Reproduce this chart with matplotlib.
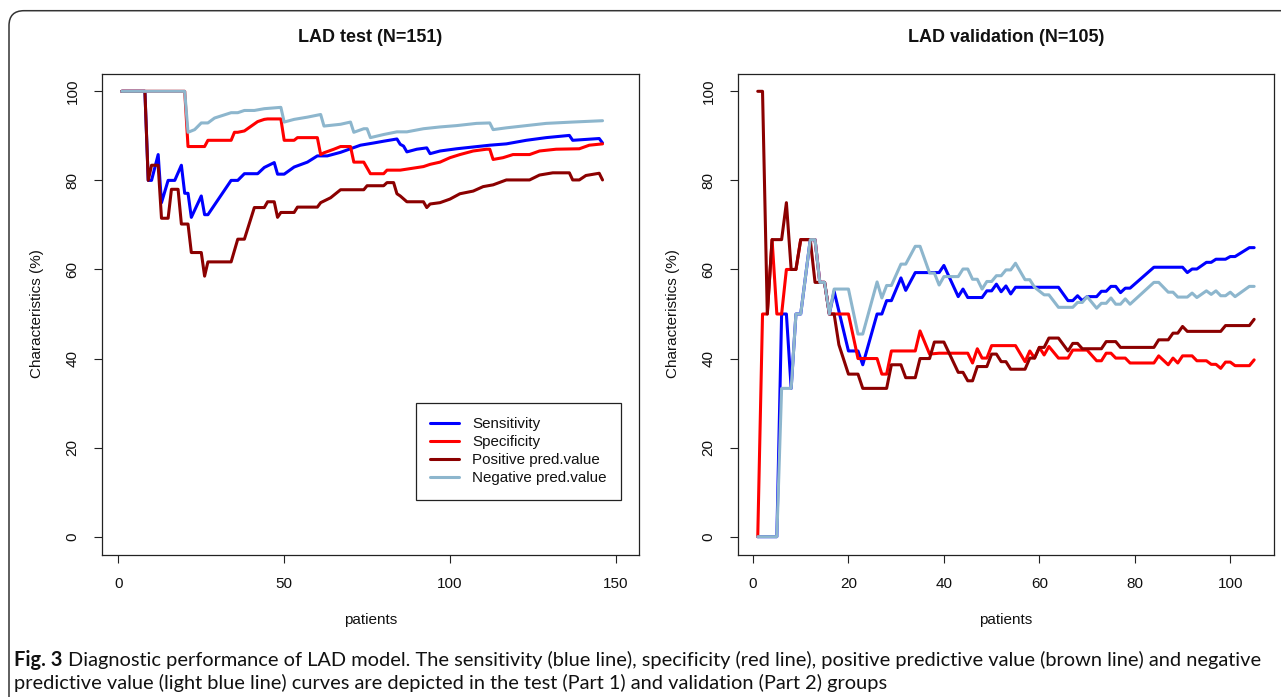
import matplotlib
matplotlib.use("Agg")
import matplotlib.pyplot as plt
from matplotlib.patches import FancyBboxPatch
from matplotlib.transforms import IdentityTransform

plt.rcParams['font.family'] = ['Liberation Sans', 'DejaVu Sans']

# ---------------- data (patient index, percent) ----------------
series_names = ["Sensitivity", "Specificity", "Positive pred.value", "Negative pred.value"]
series_colors = ["#0000FF", "#FF0000", "#8B0000", "#8DB6CD"]

test_sens = [(1,100),(8,100),(9,80),(10,80),(12,85.8),(13,75),(15,80),(17,80),(19,83.4),(20,77.1),
             (21,77.1),(22,71.7),(25,76.5),(26,72.3),(27,72.3),(34,80),(36,80),(38,81.5),(42,81.5),
             (44,82.9),(47,84),(48,81.4),(50,81.4),(53,83),(57,84.1),(60,85.5),(63,85.5),(67,86.3),
             (70,87.1),(73,87.9),(77,88.4),(80,88.8),(84,89.3),(85,88.1),(86,87.7),(87,86.4),(90,87),
             (93,87.3),(94,86),(97,86.6),(102,87.1),(107,87.5),(112,87.9),(117,88.2),(123,89),
             (129,89.6),(136,90.1),(137,89),(141,89.2),(145,89.4),(146,88.4)]
test_spec = [(1,100),(20,100),(21,87.6),(26,87.6),(27,89),(34,89),(35,90.8),(36,90.8),(38,91.1),
             (42,93.2),(44,93.7),(45,93.8),(49,93.8),(50,89),(53,89),(54,89.6),(60,89.6),(61,85.8),
             (62,86.2),(65,87),(67,87.6),(70,87.6),(71,84.1),(74,84.1),(76,81.5),(80,81.5),(81,82.3),
             (85,82.3),(92,83.1),(94,83.6),(97,84.1),(100,85.1),(103,85.8),(107,86.6),(111,87),
             (112,87),(113,84.7),(116,85.1),(119,85.8),(124,85.8),(127,86.6),(132,87),(139,87.1),
             (142,87.9),(146,88.2)]
test_ppv = [(1,100),(8,100),(9,80),(10,83.4),(12,83.4),(13,71.5),(15,71.5),(16,78),(18,78),(19,70.2),
            (21,70.2),(22,63.8),(25,63.8),(26,58.5),(27,61.7),(34,61.7),(36,66.8),(38,66.8),(41,73.9),
            (44,73.9),(45,75.2),(47,75.2),(48,71.7),(49,72.8),(53,72.8),(54,74),(60,74),(61,75),
            (64,76.1),(67,77.9),(74,77.9),(75,78.8),(80,78.8),(81,79.5),(83,79.5),(84,77),(85,76.5),
            (87,75.2),(92,75.2),(93,73.9),(94,74.7),(97,75),(100,75.8),(103,77),(107,77.6),(110,78.6),
            (113,79),(117,80.1),(124,80.1),(127,81.2),(131,81.7),(136,81.7),(137,80.1),(139,80.1),
            (141,81.1),(145,81.6),(146,80.1)]
test_npv = [(1,100),(20,100),(21,90.8),(23,91.4),(25,92.9),(27,92.9),(29,94),(34,95.2),(36,95.2),
            (38,95.7),(41,95.7),(44,96.1),(49,96.4),(50,93.1),(53,93.7),(57,94.2),(61,94.8),(62,92.2),
            (67,92.6),(70,93.1),(71,90.8),(74,91.6),(75,91.6),(76,89.6),(80,90.3),(84,90.9),(87,90.9),
            (92,91.6),(97,92),(102,92.3),(108,92.8),(112,92.9),(113,91.4),(117,91.8),(123,92.3),
            (129,92.8),(137,93.1),(146,93.4)]

val_sens = [(1,0),(5,0),(6,50),(7,50),(8,33.3),(9,50),(10,50),(12,66.7),(13,66.7),(14,57.1),(15,57.1),
            (16,50),(17,55.1),(20,41.7),(22,41.7),(23,38.6),(26,50),(27,50),(28,53),(29,53),(31,58.1),
            (32,55.3),(34,59.3),(39,59.3),(40,60.9),(43,53.9),(44,55.6),(45,53.7),(48,53.7),(49,55.2),
            (50,55.2),(51,56.7),(52,55),(53,56.3),(54,54.5),(55,56),(64,56),(66,53),(67,53),(68,54.1),
            (69,53),(70,53.9),(72,53.9),(73,55.1),(74,55.1),(75,56.2),(76,56.2),(77,54.8),(78,55.8),
            (79,55.8),(84,60.5),(90,60.5),(91,59.3),(92,60.1),(93,60.1),(95,61.6),(96,61.6),(97,62.3),
            (99,62.3),(100,62.9),(101,62.9),(104,64.9),(105,64.9)]
val_spec = [(1,0),(2,50),(3,50),(4,66.7),(5,50),(6,50),(7,60),(9,60),(10,66.7),(13,66.7),(14,57.1),
            (15,57.1),(16,50),(20,50),(22,40),(26,40),(27,36.5),(28,36.5),(29,41.7),(34,41.7),(35,46.2),
            (37,41),(39,41.2),(45,41.2),(46,39),(47,42.2),(48,40.1),(49,40.1),(50,42.9),(55,42.9),
            (57,39.3),(58,41.7),(59,40.1),(60,42.5),(61,40.8),(62,42.7),(64,40.1),(66,40.1),(67,41.9),
            (70,41.9),(72,39.5),(73,39.5),(74,41.2),(75,41.2),(76,40.1),(78,40.1),(79,39),(84,39),
            (85,40.6),(87,38.6),(88,40.1),(89,39),(90,40.6),(92,40.6),(93,39.5),(95,39.5),(96,38.7),
            (97,38.7),(98,37.8),(99,39.2),(100,39.2),(101,38.4),(104,38.4),(105,39.7)]
val_ppv = [(1,100),(2,100),(3,50),(4,66.7),(6,66.7),(7,75),(8,60),(9,60),(10,66.7),(12,66.7),(13,57.1),
           (15,57.1),(16,50),(17,50),(18,43.1),(20,36.5),(22,36.5),(23,33.3),(28,33.3),(29,38.6),
           (31,38.6),(32,35.7),(34,35.7),(35,40),(37,40),(38,43.7),(40,43.7),(43,36.9),(44,36.9),
           (45,35),(46,35),(47,38.2),(49,38.2),(50,41),(51,41),(52,39.3),(53,39.3),(54,37.6),(57,37.6),
           (58,40.1),(59,40.1),(60,42.5),(61,42.5),(62,44.6),(64,44.6),(66,41.7),(67,43.4),(68,43.4),
           (69,42.2),(73,42.2),(74,43.8),(76,43.8),(77,42.5),(84,42.5),(85,44.2),(87,44.2),(88,45.7),
           (89,45.7),(90,47.2),(91,46.1),(98,46.1),(99,47.4),(104,47.4),(105,48.8)]
val_npv = [(1,0),(5,0),(6,33.3),(8,33.3),(9,50),(10,50),(12,66.7),(13,66.7),(14,57.1),(15,57.1),(16,50),
           (17,55.6),(20,55.6),(22,45.5),(23,45.5),(26,57.2),(27,53.6),(28,56.4),(29,56.4),(31,61.2),
           (32,61.2),(34,65.2),(35,65.2),(37,59.2),(38,59.2),(39,56.5),(40,58.4),(43,58.4),(44,60.1),
           (45,60.1),(46,57.8),(47,57.8),(48,55.6),(49,57.3),(50,57.3),(51,58.6),(52,58.6),(53,59.9),
           (54,59.9),(55,61.4),(57,57.7),(58,57.7),(59,56),(61,54.3),(62,54.3),(64,51.5),(67,51.5),
           (68,52.6),(69,52.6),(70,53.9),(72,51.3),(73,52.4),(74,52.4),(75,53.6),(76,52.2),(77,52.2),
           (78,53.4),(79,52.2),(84,57.1),(85,57.1),(87,54.9),(88,54.9),(89,53.8),(91,53.8),(92,54.7),
           (93,53.7),(95,55.2),(96,54.4),(97,55.2),(98,54.1),(99,54.1),(100,54.9),(101,53.9),
           (104,56.2),(105,56.2)]

panel_titles = ["LAD test (N=151)", "LAD validation (N=105)"]
x_ticks_left = [0, 50, 100, 150]
x_ticks_right = [0, 20, 40, 60, 80, 100]
y_ticks = [0, 20, 40, 60, 80, 100]
x_label = "patients"
y_label = "Characteristics (%)"
caption_bold = "Fig. 3"
caption_line1 = ("Diagnostic performance of LAD model. The sensitivity (blue line), specificity (red line), "
                 "positive predictive value (brown line) and negative")
caption_line2 = ("predictive value (light blue line) curves are depicted in the test (Part 1) and "
                 "validation (Part 2) groups")

# ---------------- figure ----------------
W, H = 1281, 697
fig = plt.figure(figsize=(W / 100, H / 100), dpi=100)
fig.patch.set_facecolor("white")

def px_axes(l, t, r, b):
    return [l / W, (H - b) / H, (r - l) / W, (b - t) / H]

axL = fig.add_axes(px_axes(101.8, 73.5, 639, 554.5))
axR = fig.add_axes(px_axes(737.9, 73.5, 1274, 554.5))

frame_col = "#222222"
txt_col = "#111111"
panels = [
    (axL, [test_sens, test_spec, test_ppv, test_npv], (-5, 157), x_ticks_left, panel_titles[0]),
    (axR, [val_sens, val_spec, val_ppv, val_npv], (-3.16, 109.16), x_ticks_right, panel_titles[1]),
]
for ax, data, xlim, xt, title in panels:
    for pts, name, col in zip(data, series_names, series_colors):
        xs = [p[0] for p in pts]
        ys = [p[1] for p in pts]
        ax.plot(xs, ys, color=col, lw=2.2, label=name, solid_capstyle="round", solid_joinstyle="round")
    ax.set_xlim(*xlim)
    ax.set_ylim(-4, 104)
    ax.set_xticks(xt)
    ax.set_yticks(y_ticks)
    for s in ax.spines.values():
        s.set_color(frame_col)
        s.set_linewidth(0.9)
    ax.tick_params(direction="out", length=5.8, width=0.8, color=frame_col,
                   labelsize=11, labelcolor=txt_col)
    ax.tick_params(axis="x", pad=10.2)
    ax.tick_params(axis="y", pad=10.2)
    for lab in ax.get_yticklabels():
        lab.set_rotation(90)
        lab.set_va("center")
    ax.text(0.5, 1.075, title, transform=ax.transAxes, ha="center", va="center",
            fontsize=13, fontweight="bold", color=txt_col)
    ax.text(0.5, -0.136, x_label, transform=ax.transAxes, ha="center", va="center",
            fontsize=11, color=txt_col)
    ax.text(-0.1206, 0.5, y_label, transform=ax.transAxes, ha="center", va="center",
            rotation=90, fontsize=11, color=txt_col)

leg = axL.legend(loc="upper left", bbox_to_anchor=(0.585, 0.315), frameon=True, fancybox=False,
                 edgecolor=frame_col, framealpha=1, fontsize=10.9, handlelength=1.9,
                 handletextpad=0.85, labelspacing=0.26, borderpad=0.95, borderaxespad=0)
leg.get_frame().set_linewidth(0.9)
for t in leg.get_texts():
    t.set_color(txt_col)

# outer rounded border (extends beyond right / bottom edge)
border = FancyBboxPatch((9, -40), 1400, (H - 10.7) + 40,
                        boxstyle="round,pad=0,rounding_size=15",
                        transform=IdentityTransform(), fill=False,
                        ec="#333333", lw=1.1)
fig.add_artist(border)

# caption
cap_family = ["Lato", "Open Sans", "DejaVu Sans"]
renderer = fig.canvas.get_renderer()
x0, x_right = 14, 1262
base = 14.0
tb = fig.text(x0, H - 665.7, caption_bold, transform=IdentityTransform(), family=cap_family,
              fontweight="bold", fontsize=base, va="baseline", ha="left", color=txt_col)
t1 = fig.text(x0, H - 665.7, caption_line1, transform=IdentityTransform(), family=cap_family,
              fontsize=base, va="baseline", ha="left", color=txt_col)
t2 = fig.text(x0, H - 688.6, caption_line2, transform=IdentityTransform(), family=cap_family,
              fontsize=base, va="baseline", ha="left", color=txt_col)
wb = tb.get_window_extent(renderer).width
w1 = t1.get_window_extent(renderer).width
space = 0.26 * base * 100 / 72
scale = (x_right - x0) / (wb + space + w1)
size = base * scale
for t in (tb, t1, t2):
    t.set_fontsize(size)
wb = tb.get_window_extent(renderer).width
t1.set_x(x0 + wb + 0.26 * size * 100 / 72)

fig.savefig("out.png", dpi=100, facecolor="white")
